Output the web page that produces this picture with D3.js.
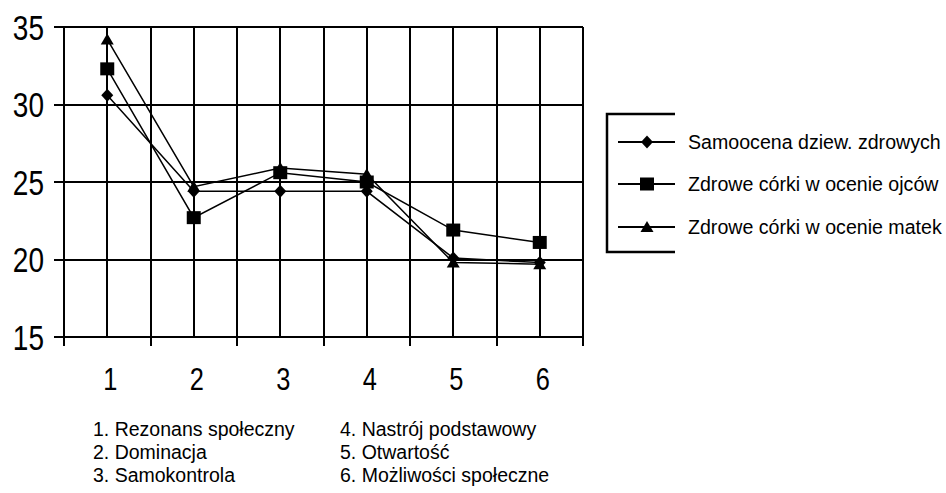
<!DOCTYPE html>
<html>
<head>
<meta charset="utf-8">
<script src="https://cdn.jsdelivr.net/npm/d3@7"></script>
<style>
  body { margin: 0; background: #fff; }
  svg { display: block; }
</style>
</head>
<body>
<div id="chart"></div>
<script>
// categories 1..6
var categories = ["1", "2", "3", "4", "5", "6"];
var categoryNames = ["1. Rezonans społeczny", "2. Dominacja", "3. Samokontrola",
                     "4. Nastrój podstawowy", "5. Otwartość", "6. Możliwości społeczne"];
var yTicks = [15, 20, 25, 30, 35];

var seriesNames = ["Samoocena dziew. zdrowych", "Zdrowe córki w ocenie ojców", "Zdrowe córki w ocenie matek"];
var samoocena = [30.6, 24.4, 24.4, 24.4, 20.1, 19.8];
var ojcowie   = [32.3, 22.7, 25.6, 25.0, 21.9, 21.1];
var matki     = [34.2, 24.7, 25.9, 25.5, 19.8, 19.7];
var markers   = ["diamond", "square", "triangle"];

var W = 946, H = 493;
var svg = d3.select("#chart").append("svg")
	.attr("width", W)
	.attr("height", H);

var pLeft = 64, pRight = 583, pTop = 27, pBottom = 337;

var xBand = d3.scaleBand().domain(categories).range([pLeft, pRight]).padding(0);
var bw = xBand.bandwidth();
var x = function(c) { return xBand(c) + bw / 2; };
var y = d3.scaleLinear().domain([15, 35]).range([pBottom, pTop]);

var grid = svg.append("g")
	.attr("stroke", "#000")
	.attr("stroke-width", 2)
	.attr("shape-rendering", "crispEdges");

// horizontal lines with little ticks on the left
grid.selectAll("line.h")
	.data(yTicks)
	.enter().append("line")
		.attr("class", "h")
		.attr("x1", pLeft - 10)
		.attr("x2", pRight)
		.attr("y1", function(d) { return Math.round(y(d)); })
		.attr("y2", function(d) { return Math.round(y(d)); });

// boundaries between categories, with ticks going below
var edges = categories.map(function(c) { return xBand(c); }).concat([pRight]);
grid.selectAll("line.edge")
	.data(edges)
	.enter().append("line")
		.attr("class", "edge")
		.attr("x1", function(d) { return Math.round(d); })
		.attr("x2", function(d) { return Math.round(d); })
		.attr("y1", pTop)
		.attr("y2", pBottom + 9);

// line through every category
grid.selectAll("line.mid")
	.data(categories)
	.enter().append("line")
		.attr("class", "mid")
		.attr("x1", function(d) { return Math.round(x(d)); })
		.attr("x2", function(d) { return Math.round(x(d)); })
		.attr("y1", pTop)
		.attr("y2", pBottom);

// y labels (narrowed digits)
svg.selectAll("text.ylab")
	.data(yTicks)
	.enter().append("text")
		.attr("class", "ylab")
		.attr("transform", function(d) { return "translate(44," + (y(d) + 12.5) + ") scale(0.8,1)"; })
		.attr("text-anchor", "end")
		.attr("font-family", "'Liberation Sans', Arial, sans-serif")
		.attr("font-size", 35)
		.text(function(d) { return d; });

// x labels
svg.selectAll("text.xlab")
	.data(categories)
	.enter().append("text")
		.attr("class", "xlab")
		.attr("transform", function(d) { return "translate(" + (x(d) + 3) + ",390) scale(0.82,1)"; })
		.attr("text-anchor", "middle")
		.attr("font-family", "'Liberation Sans', Arial, sans-serif")
		.attr("font-size", 31)
		.text(function(d) { return d; });

// markers
function markerPath(type) {
	if (type == "diamond") return "M0,-6.5L6,0L0,6.5L-6,0Z";
	if (type == "square") return "M-7,-6.5H7V6.5H-7Z";
	return "M0,-6L6.5,5L-6.5,5Z";
}

var allSeries = [samoocena, ojcowie, matki];
var line = d3.line()
	.x(function(d, i) { return x(categories[i]); })
	.y(function(d) { return y(d); });

allSeries.forEach(function(vals, k) {
	svg.append("path")
		.attr("d", line(vals))
		.attr("fill", "none")
		.attr("stroke", "#000")
		.attr("stroke-width", 1.5);
	svg.selectAll("path.m" + k)
		.data(vals)
		.enter().append("path")
			.attr("class", "m" + k)
			.attr("d", markerPath(markers[k]))
			.attr("transform", function(d, i) { return "translate(" + x(categories[i]) + "," + y(d) + ")"; })
			.attr("fill", "#000");
});

// category descriptions
var descX = [93, 340];
svg.selectAll("text.desc")
	.data(categoryNames)
	.enter().append("text")
		.attr("class", "desc")
		.attr("x", function(d, i) { return descX[Math.floor(i / 3)]; })
		.attr("y", function(d, i) { return 436 + (i % 3) * 23; })
		.attr("font-family", "'Liberation Sans', Arial, sans-serif")
		.attr("font-size", 19.5)
		.text(function(d) { return d; });

// legend
var lg = svg.append("g");
lg.append("path")
	.attr("d", "M675,114H607V252H675")
	.attr("fill", "none")
	.attr("stroke", "#000")
	.attr("stroke-width", 2.5);

var rowY = [142, 184, 227];
seriesNames.forEach(function(name, k) {
	lg.append("line")
		.attr("x1", 618).attr("x2", 675)
		.attr("y1", rowY[k]).attr("y2", rowY[k])
		.attr("stroke", "#000")
		.attr("stroke-width", 2);
	lg.append("path")
		.attr("d", markerPath(markers[k]))
		.attr("transform", "translate(647," + rowY[k] + ")")
		.attr("fill", "#000");
	lg.append("text")
		.attr("x", 688)
		.attr("y", rowY[k] + 7)
		.attr("font-family", "'Liberation Sans', Arial, sans-serif")
		.attr("font-size", 19.6)
		.text(name);
});
</script>
</body>
</html>
